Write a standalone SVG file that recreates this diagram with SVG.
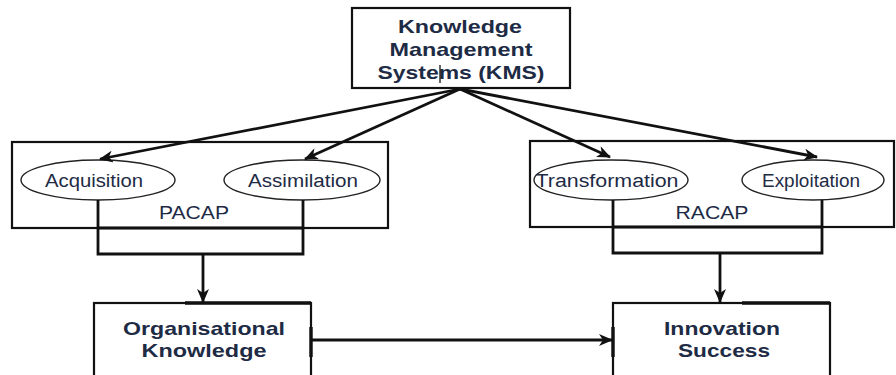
<svg xmlns="http://www.w3.org/2000/svg" width="896" height="375" viewBox="0 0 896 375">
<defs>
<style>
.box{fill:#fff;stroke:#111;stroke-width:2.2}
.grp{fill:none;stroke:#111;stroke-width:2.2}
.ell{fill:#fff;stroke:#222;stroke-width:1.4}
.t{font-family:"Liberation Sans",Arial,sans-serif;font-weight:bold;font-size:19px;fill:#1e2b45;text-anchor:middle}
.e{font-family:"Liberation Sans",Arial,sans-serif;font-size:18px;fill:#1e2b45;text-anchor:middle}
.lbl{font-family:"Liberation Sans",Arial,sans-serif;font-size:19px;fill:#1e2b45;text-anchor:middle}
.c{fill:none;stroke:#111;stroke-width:2.8}
.thick{stroke:#111;stroke-width:3.4}
</style>
<marker id="ah" viewBox="0 0 14 12" refX="13" refY="6" markerWidth="14" markerHeight="12" markerUnits="userSpaceOnUse" orient="auto">
<path d="M0,0 L14,6 L0,12 L4,6 z" fill="#111"/>
</marker>
</defs>
<rect width="896" height="375" fill="#fff"/>

<g id="pacap">
<rect class="grp" x="12" y="142" width="376" height="86"/>
<text class="lbl" x="194" y="219" textLength="70" lengthAdjust="spacingAndGlyphs">PACAP</text>
</g>
<g id="racap">
<rect class="grp" x="530" y="141" width="364" height="86"/>
<text class="lbl" x="712" y="219" textLength="73" lengthAdjust="spacingAndGlyphs">RACAP</text>
</g>

<g id="kms">
<rect class="box" x="352" y="8" width="218" height="80"/>
<text class="t" x="460" y="33" textLength="124" lengthAdjust="spacingAndGlyphs">Knowledge</text>
<text class="t" x="461" y="56" textLength="143" lengthAdjust="spacingAndGlyphs">Management</text>
<text class="t" x="461" y="79" textLength="167" lengthAdjust="spacingAndGlyphs">Systems (KMS)</text>
<line x1="440" y1="65" x2="440" y2="83" stroke="#111" stroke-width="1.3"/>
</g>

<g id="acquisition">
<ellipse class="ell" cx="98" cy="180" rx="77" ry="20"/>
<text class="e" x="94" y="187" textLength="98" lengthAdjust="spacingAndGlyphs">Acquisition</text>
</g>
<g id="assimilation">
<ellipse class="ell" cx="302" cy="180" rx="78" ry="20"/>
<text class="e" x="303" y="187" textLength="110" lengthAdjust="spacingAndGlyphs">Assimilation</text>
</g>
<g id="transformation">
<ellipse class="ell" cx="611" cy="180" rx="77" ry="20"/>
<text class="e" x="607" y="187" textLength="143" lengthAdjust="spacingAndGlyphs">Transformation</text>
</g>
<g id="exploitation">
<ellipse class="ell" cx="813" cy="180" rx="71" ry="20"/>
<text class="e" x="811" y="187" textLength="98" lengthAdjust="spacingAndGlyphs">Exploitation</text>
</g>

<g id="organisational">
<rect class="box" x="94" y="303" width="217" height="90"/>
<text class="t" x="204" y="335" textLength="162" lengthAdjust="spacingAndGlyphs">Organisational</text>
<text class="t" x="204" y="357" textLength="125" lengthAdjust="spacingAndGlyphs">Knowledge</text>
</g>
<g id="innovation">
<rect class="box" x="613" y="303" width="217" height="90"/>
<text class="t" x="722" y="335" textLength="116" lengthAdjust="spacingAndGlyphs">Innovation</text>
<text class="t" x="724" y="357" textLength="92" lengthAdjust="spacingAndGlyphs">Success</text>
</g>

<g id="connectors">
<line class="c" x1="460" y1="89" x2="100" y2="159" marker-end="url(#ah)"/>
<line class="c" x1="460" y1="89" x2="305" y2="159" marker-end="url(#ah)"/>
<line class="c" x1="460" y1="89" x2="610" y2="157" marker-end="url(#ah)"/>
<line class="c" x1="460" y1="89" x2="817" y2="157" marker-end="url(#ah)"/>
<polyline class="c" points="98,200 98,254 303,254 303,200"/>
<line class="c" x1="98" y1="228" x2="303" y2="228"/>
<line class="c" x1="203" y1="254" x2="203" y2="302" marker-end="url(#ah)"/>
<polyline class="c" points="613,200 613,253 822,253 822,200"/>
<line class="c" x1="613" y1="227" x2="822" y2="227"/>
<line class="c" x1="720" y1="253" x2="720" y2="302" marker-end="url(#ah)"/>
<line class="thick" x1="185" y1="303" x2="311" y2="303"/>
<line class="thick" x1="742" y1="303" x2="830" y2="303"/>
<line class="thick" x1="311" y1="327" x2="311" y2="357"/>
<line class="thick" x1="613" y1="327" x2="613" y2="357"/>
<line class="c" x1="311" y1="340" x2="612" y2="340" marker-end="url(#ah)"/>
</g>
</svg>
